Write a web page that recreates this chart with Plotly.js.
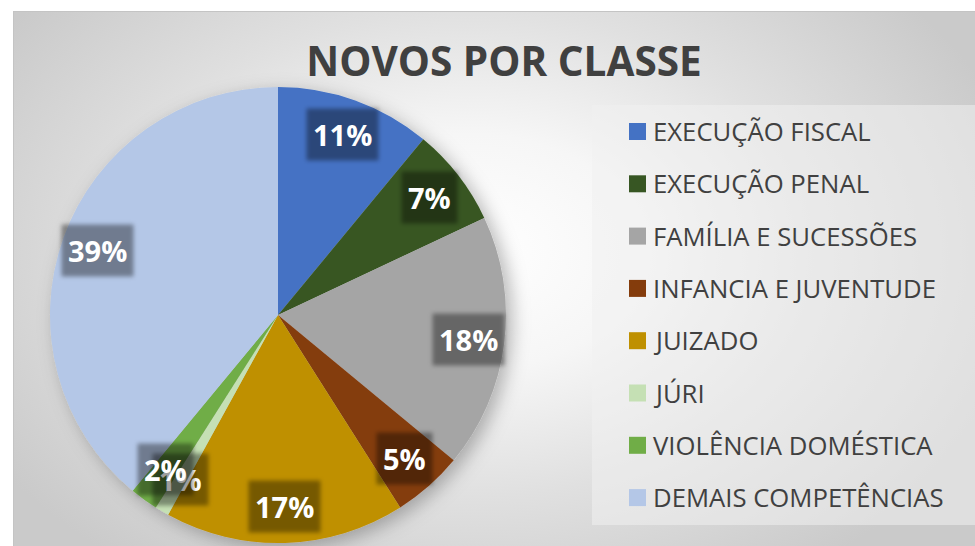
<!DOCTYPE html>
<html>
<head>
<meta charset="utf-8">
<script src="https://cdn.plot.ly/plotly-3.0.1.min.js"></script>
<style>
html, body { margin: 0; padding: 0; background: #ffffff; overflow: hidden; }
#bg {
  position: absolute; left: 13px; top: 11px; width: 975px; height: 546px;
  border-top: 1px solid #c4c4c4; border-left: 1px solid #c4c4c4;
  background: radial-gradient(ellipse 58% 72% at 47% 44%, #ffffff 0%, #f6f6f6 30%, #e0e0e0 62%, #cacaca 100%);
}
#chart { position: absolute; left: 0; top: 0; width: 975px; height: 546px; }
.pielayer { filter: url(#pieShadow); }
g.annotation rect.bg { filter: url(#softEdge); }
</style>
</head>
<body>
<svg width="0" height="0" style="position:absolute">
  <defs>
    <filter id="pieShadow" x="-20%" y="-20%" width="150%" height="150%">
      <feDropShadow dx="6" dy="5" stdDeviation="9" flood-color="#000000" flood-opacity="0.28"/>
    </filter>
    <filter id="softEdge" x="-20%" y="-20%" width="140%" height="140%">
      <feGaussianBlur stdDeviation="2.2"/>
    </filter>
  </defs>
</svg>
<div id="bg"></div>
<div id="chart"></div>
<script>
// ---- data ----
const categories = [
  "EXECUÇÃO FISCAL",
  "EXECUÇÃO PENAL",
  "FAMÍLIA E SUCESSÕES",
  "INFANCIA E JUVENTUDE",
  "JUIZADO",
  "JÚRI",
  "VIOLÊNCIA DOMÉSTICA",
  "DEMAIS COMPETÊNCIAS"
];
const values = [11, 7, 18, 5, 17, 1, 2, 39];
const colors = ["#4472C4", "#375623", "#A5A5A5", "#843C0C", "#BF9000", "#C5E0B4", "#70AD47", "#B4C7E7"];
const chartTitle = "NOVOS POR CLASSE";

// ---- geometry ----
const W = 975, H = 546;
const cx = 278, cy = 315, R = 228;
const labelR = 0.84 * R;
const px2x = p => p / W;
const py2y = p => 1 - p / H;

const total = values.reduce((a, b) => a + b, 0);

// percentage labels with dark boxes, placed at slice mid-angles
const annotations = [];
let cum = 0;
values.forEach((v, i) => {
  const mid = (cum + v / 2) / total * 2 * Math.PI;
  cum += v;
  const lx = cx + labelR * Math.sin(mid);
  const ly = cy - labelR * Math.cos(mid);
  annotations.push({
    xref: 'paper', yref: 'paper', x: px2x(lx), y: py2y(ly),
    xanchor: 'center', yanchor: 'middle', showarrow: false,
    text: Math.round(v / total * 100) + '%',
    font: { family: 'Open Sans', size: 29, color: '#ffffff', weight: 'bold' },
    bgcolor: 'rgba(0,0,0,0.38)', borderpad: 6
  });
});

// legend (box, swatches, labels)
const shapes = [{
  type: 'rect', xref: 'paper', yref: 'paper', layer: 'below',
  x0: px2x(592), x1: px2x(990), y0: py2y(525), y1: py2y(105),
  fillcolor: 'rgba(240,240,240,0.55)', line: { width: 0 }
}];
const legTop = 131.5, legStep = 52.3, sw = 17;
categories.forEach((c, i) => {
  const yc = legTop + i * legStep;
  shapes.push({
    type: 'rect', xref: 'paper', yref: 'paper',
    x0: px2x(629), x1: px2x(629 + sw), y0: py2y(yc + sw / 2), y1: py2y(yc - sw / 2),
    fillcolor: colors[i], line: { width: 0 }
  });
  annotations.push({
    xref: 'paper', yref: 'paper', x: px2x(651), y: py2y(yc),
    xanchor: 'left', yanchor: 'middle', showarrow: false,
    text: c, font: { family: 'Open Sans', size: 25.7, color: '#404040' }
  });
});

const trace = {
  type: 'pie',
  labels: categories,
  values: values,
  marker: { colors: colors, line: { width: 0 } },
  sort: false,
  direction: 'clockwise',
  rotation: 0,
  textinfo: 'none',
  hoverinfo: 'label+percent',
  showlegend: false,
  domain: { x: [px2x(cx - R), px2x(cx + R)], y: [py2y(cy + R), py2y(cy - R)] }
};

const layout = {
  width: W, height: H,
  margin: { l: 0, r: 0, t: 0, b: 0 },
  paper_bgcolor: 'rgba(0,0,0,0)',
  plot_bgcolor: 'rgba(0,0,0,0)',
  showlegend: false,
  title: {
    text: chartTitle,
    x: px2x(504), xref: 'paper', xanchor: 'center',
    y: py2y(62), yref: 'container', yanchor: 'middle',
    font: { family: 'Open Sans', size: 40.5, color: '#404040', weight: 'bold' }
  },
  annotations: annotations,
  shapes: shapes
};

Plotly.newPlot('chart', [trace], layout, { displayModeBar: false, staticPlot: true });
</script>
</body>
</html>
